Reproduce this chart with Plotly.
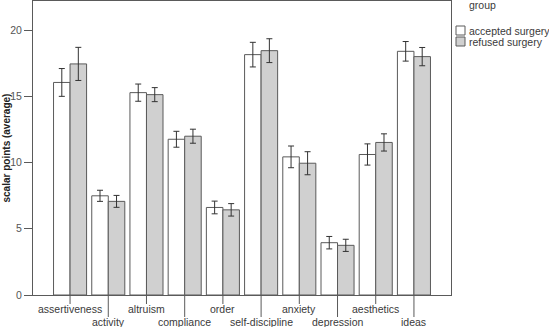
import plotly.graph_objects as go

categories = ["assertiveness", "activity", "altruism", "compliance", "order",
              "self-discipline", "anxiety", "depression", "aesthetics", "ideas"]
accepted = [16.05, 7.49, 15.28, 11.76, 6.61, 18.15, 10.43, 3.95, 10.61, 18.40]
accepted_err = [1.05, 0.42, 0.65, 0.60, 0.48, 0.93, 0.82, 0.47, 0.80, 0.74]
refused = [17.45, 7.07, 15.13, 11.99, 6.43, 18.45, 9.95, 3.75, 11.52, 18.00]
refused_err = [1.25, 0.45, 0.53, 0.53, 0.47, 0.90, 0.87, 0.46, 0.65, 0.69]
y_ticks = [0, 5, 10, 15, 20]
series_names = ["accepted surgery", "refused surgery"]
series_colors = ["white", "#d0d0d0"]

FONT = "Liberation Sans, Arial, sans-serif"
EDGE = "#5a5a5a"
TXT = "#3a3a3a"

fig = go.Figure()
for name, vals, errs, col in [(series_names[0], accepted, accepted_err, series_colors[0]),
                              (series_names[1], refused, refused_err, series_colors[1])]:
    fig.add_trace(go.Bar(
        x=categories, y=vals, name=name,
        marker=dict(color=col, line=dict(color=EDGE, width=1)),
        error_y=dict(type="data", array=errs, color="#333333", thickness=1, width=3),
    ))

shapes = []
annotations = []
for i, c in enumerate(categories):
    low = i % 2 == 1
    shapes.append(dict(type="line", xref="x", yref="paper", ysizemode="pixel",
                       yanchor=0, x0=c, x1=c, y0=0, y1=-22 if low else -9,
                       line=dict(color=EDGE, width=1)))
    annotations.append(dict(text=c, xref="x", yref="paper", x=c, y=0,
                            yanchor="top", xanchor="center", showarrow=False,
                            yshift=-19 if low else -6,
                            font=dict(family=FONT, size=10.5, color=TXT)))

# y-axis title
annotations.append(dict(text="<b>scalar points (average)</b>", xref="paper", yref="paper",
                        x=0, y=0.5, xshift=-27.5, textangle=-90, showarrow=False,
                        xanchor="center", yanchor="middle",
                        font=dict(family=FONT, size=10, color="#222222")))

# legend (manual, to match reference geometry)
annotations.append(dict(text="group", xref="paper", yref="paper", x=1, y=1,
                        xshift=16, yshift=-4, xanchor="left", yanchor="middle",
                        showarrow=False, font=dict(family=FONT, size=10.5, color=TXT)))
for k, (name, col) in enumerate(zip(series_names, series_colors)):
    top = -25 - 11 * k
    shapes.append(dict(type="rect", xref="paper", yref="paper",
                       xsizemode="pixel", ysizemode="pixel", xanchor=1, yanchor=1,
                       x0=5, x1=14, y0=top, y1=top - 9,
                       fillcolor=col, line=dict(color=EDGE, width=1)))
    annotations.append(dict(text=name, xref="paper", yref="paper", x=1, y=1,
                            xshift=16, yshift=top - 5, xanchor="left", yanchor="middle",
                            showarrow=False, font=dict(family=FONT, size=10.5, color=TXT)))

fig.update_layout(
    width=549, height=327,
    margin=dict(l=33, r=98, t=1, b=32),
    paper_bgcolor="white", plot_bgcolor="white",
    barmode="group", bargap=0.135, bargroupgap=0,
    font=dict(family=FONT, size=10.5, color=TXT),
    showlegend=False,
    xaxis=dict(type="category", range=[-0.97, 9.97], showticklabels=False,
               ticks="", showline=True, linecolor=EDGE, linewidth=1, mirror=True,
               showgrid=False, zeroline=False, automargin=False),
    yaxis=dict(range=[0, 22.2], tickvals=y_ticks, ticks="outside", ticklen=8,
               tickcolor=EDGE, showline=True, linecolor=EDGE, linewidth=1,
               mirror=True, showgrid=False, zeroline=False, automargin=False,
               tickfont=dict(family=FONT, size=10.5, color="#555555")),
    shapes=shapes,
    annotations=annotations,
)

fig.write_html("out.html", config={"displayModeBar": False},
               post_script="document.body.style.margin='0';document.body.style.overflow='hidden';")
